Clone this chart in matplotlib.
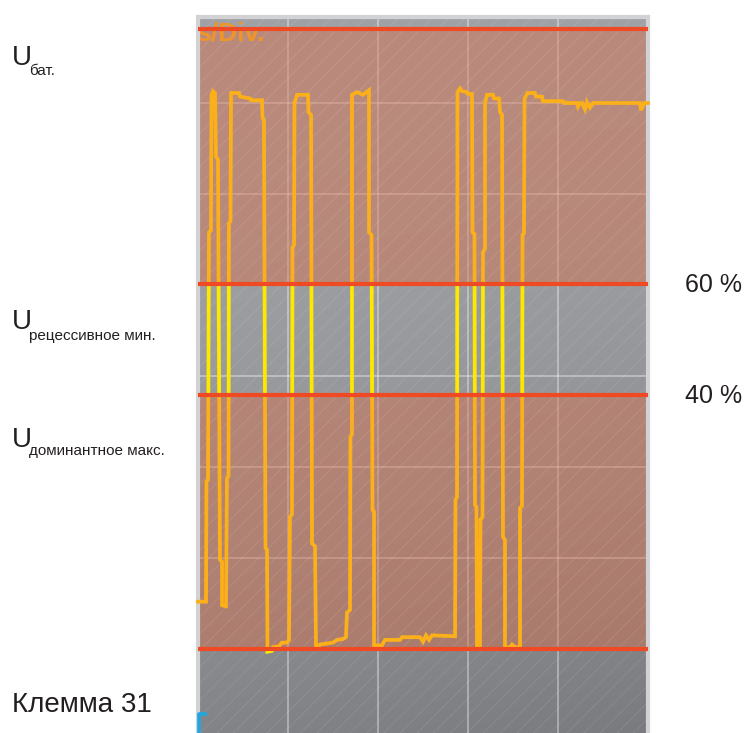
import numpy as np
import matplotlib.pyplot as plt
from matplotlib.patches import Rectangle

plt.rcParams['font.family'] = ['Liberation Sans', 'DejaVu Sans']

# trace: time in divisions, level in divisions
time_div = [
    0.000, 0.089, 0.094, 0.111, 0.122, 0.144, 0.150, 0.167, 0.189, 0.200,
    0.222, 0.244, 0.267, 0.267, 0.311, 0.322, 0.339, 0.344, 0.361, 0.367,
    0.456, 0.467, 0.578, 0.589, 0.711, 0.717, 0.733, 0.750, 0.767, 0.772,
    0.822, 0.833, 0.900, 0.933, 0.989, 1.011, 1.022, 1.044, 1.050, 1.067,
    1.072, 1.100, 1.222, 1.228, 1.256, 1.267, 1.300, 1.311, 1.333, 1.356,
    1.500, 1.544, 1.611, 1.644, 1.656, 1.689, 1.694, 1.711, 1.711, 1.767,
    1.833, 1.900, 1.900, 1.928, 1.939, 1.956, 1.956, 2.044, 2.078, 2.244,
    2.267, 2.467, 2.500, 2.533, 2.567, 2.600, 2.856, 2.861, 2.878, 2.883,
    2.911, 2.933, 2.989, 3.000, 3.044, 3.050, 3.072, 3.078, 3.094, 3.100,
    3.133, 3.139, 3.161, 3.167, 3.189, 3.189, 3.211, 3.278, 3.289, 3.344,
    3.356, 3.378, 3.389, 3.411, 3.411, 3.467, 3.489, 3.522, 3.578, 3.578,
    3.600, 3.606, 3.622, 3.628, 3.661, 3.744, 3.756, 3.822, 3.833, 4.056,
    4.067, 4.211, 4.222, 4.244, 4.267, 4.300, 4.322, 4.356, 4.389, 4.911,
    4.922, 4.956, 5.000]
level_div = [
    1.52, 1.52, 2.84, 2.86, 5.58, 5.60, 7.09, 7.13, 7.11, 6.41,
    6.38, 1.98, 1.96, 1.48, 1.47, 2.88, 2.90, 5.68, 5.70, 7.11,
    7.11, 7.07, 7.05, 7.03, 7.03, 6.84, 6.81, 2.11, 2.09, 0.97,
    0.98, 1.02, 1.03, 1.07, 1.07, 1.10, 2.45, 2.48, 5.41, 5.44,
    7.00, 7.09, 7.09, 6.90, 6.87, 2.16, 2.13, 1.03, 1.02, 1.05,
    1.07, 1.10, 1.11, 1.13, 1.40, 1.43, 3.33, 3.36, 7.09, 7.12,
    7.09, 7.14, 5.58, 5.55, 2.53, 2.51, 1.04, 1.04, 1.10, 1.10,
    1.13, 1.13, 1.08, 1.15, 1.10, 1.15, 1.14, 2.64, 2.67, 7.12,
    7.16, 7.13, 7.12, 7.10, 7.10, 5.58, 5.56, 2.58, 2.56, 1.04,
    1.04, 2.42, 2.45, 5.36, 5.40, 7.00, 7.09, 7.09, 7.05, 7.05,
    6.90, 6.87, 2.23, 2.20, 1.02, 1.02, 1.05, 1.02, 1.02, 2.55,
    2.57, 5.55, 5.57, 7.05, 7.11, 7.11, 7.07, 7.07, 7.02, 7.02,
    7.00, 7.00, 6.96, 7.00, 7.00, 6.93, 7.01, 6.95, 7.00, 7.00,
    6.92, 7.00, 7.00]

# red limit lines (divisions) and the masked bands between them
limit_levels = [1.0, 3.79, 5.01, 7.81]
pct_labels = {"60 %": 5.01, "40 %": 3.79}
n_xdiv = 5
y_lo, y_hi = 0.077, 7.945

W, H = 747, 733
fig = plt.figure(figsize=(W / 100, H / 100), dpi=100)
ax = fig.add_axes([198 / W, 0, 450 / W, (H - 17) / H])
ax.set_xlim(0, n_xdiv)
ax.set_ylim(y_lo, y_hi)

# screen background: grey, darker toward the bottom right
yy, xx = np.mgrid[0:1:200j, 0:1:200j]
val = 161 - 30 * yy ** 2 - 9 * xx * yy
bg = np.dstack([val, val + 1, val + 5]) / 255.0
ax.imshow(bg, extent=[0, n_xdiv, y_lo, y_hi], origin='upper', aspect='auto', zorder=0)

ax.set_xticks(range(1, n_xdiv))
ax.set_yticks(range(1, 8))
ax.set_axisbelow(True)
ax.grid(True, color='white', alpha=0.45, lw=1.1)
ax.tick_params(length=0, labelleft=False, labelbottom=False)
for side in ['left', 'right', 'top']:
    ax.spines[side].set_color('#d2d2d4')
    ax.spines[side].set_linewidth(3)
ax.spines['bottom'].set_visible(False)

bands = [(limit_levels[0], limit_levels[1]), (limit_levels[2], limit_levels[3])]
for lo, hi in bands:
    ax.add_patch(Rectangle((0, lo), n_xdiv, hi - lo, facecolor='#d8704a', alpha=0.45,
                           lw=0, zorder=1))

plt.rcParams['hatch.linewidth'] = 0.5
hatch = Rectangle((0, y_lo), n_xdiv, y_hi - y_lo, facecolor='none',
                  edgecolor=(1, 1, 1, 0.13), lw=0, hatch='//', zorder=1.5)
ax.add_patch(hatch)

ax.text(-0.02, 7.69, "s/Div.", ha='left', va='baseline', fontsize=19,
        fontweight='bold', color='#f6961e', alpha=0.9, clip_on=True, zorder=2)

# trace: orange inside the bands, yellow elsewhere
yellow_zones = [(y_lo - 1, limit_levels[0]), (limit_levels[1], limit_levels[2]),
                (limit_levels[3], y_hi + 1)]
for zones, col in [(bands, '#fbb01a'), (yellow_zones, '#ffe800')]:
    for lo, hi in zones:
        ln, = ax.plot(time_div, level_div, color=col, lw=2.7, zorder=3,
                      solid_joinstyle='miter')
        clip = Rectangle((-1, lo), n_xdiv + 2, hi - lo, transform=ax.transData)
        ln.set_clip_path(clip)

for lv in limit_levels:
    ax.axhline(lv, color='#f04a24', lw=3, zorder=4)

# ground marker
ax.plot([0.012, 0.012, 0.1], [y_lo - 0.1, 0.29, 0.29], color='#1ea7df', lw=2.6,
        solid_capstyle='butt', zorder=5, clip_on=False)

def fy(px):
    return 1 - px / H

for sub, ub, sb in [("бат.", 65, 75), ("рецессивное мин.", 329, 340),
                    ("доминантное макс.", 447, 455)]:
    fig.text(12 / W, fy(ub), "U", fontsize=20, color='#231f20', va='baseline')
    fig.text(29 / W, fy(sb), sub, fontsize=11, color='#231f20', va='baseline')

fig.text(12 / W, fy(712), "Клемма 31", fontsize=20, color='#231f20', va='baseline')
for lab, lv in pct_labels.items():
    px = 740 - lv * 91
    fig.text(685 / W, fy(px + 8), lab, fontsize=18, color='#231f20', va='baseline')

fig.savefig('out.png', dpi=100)
